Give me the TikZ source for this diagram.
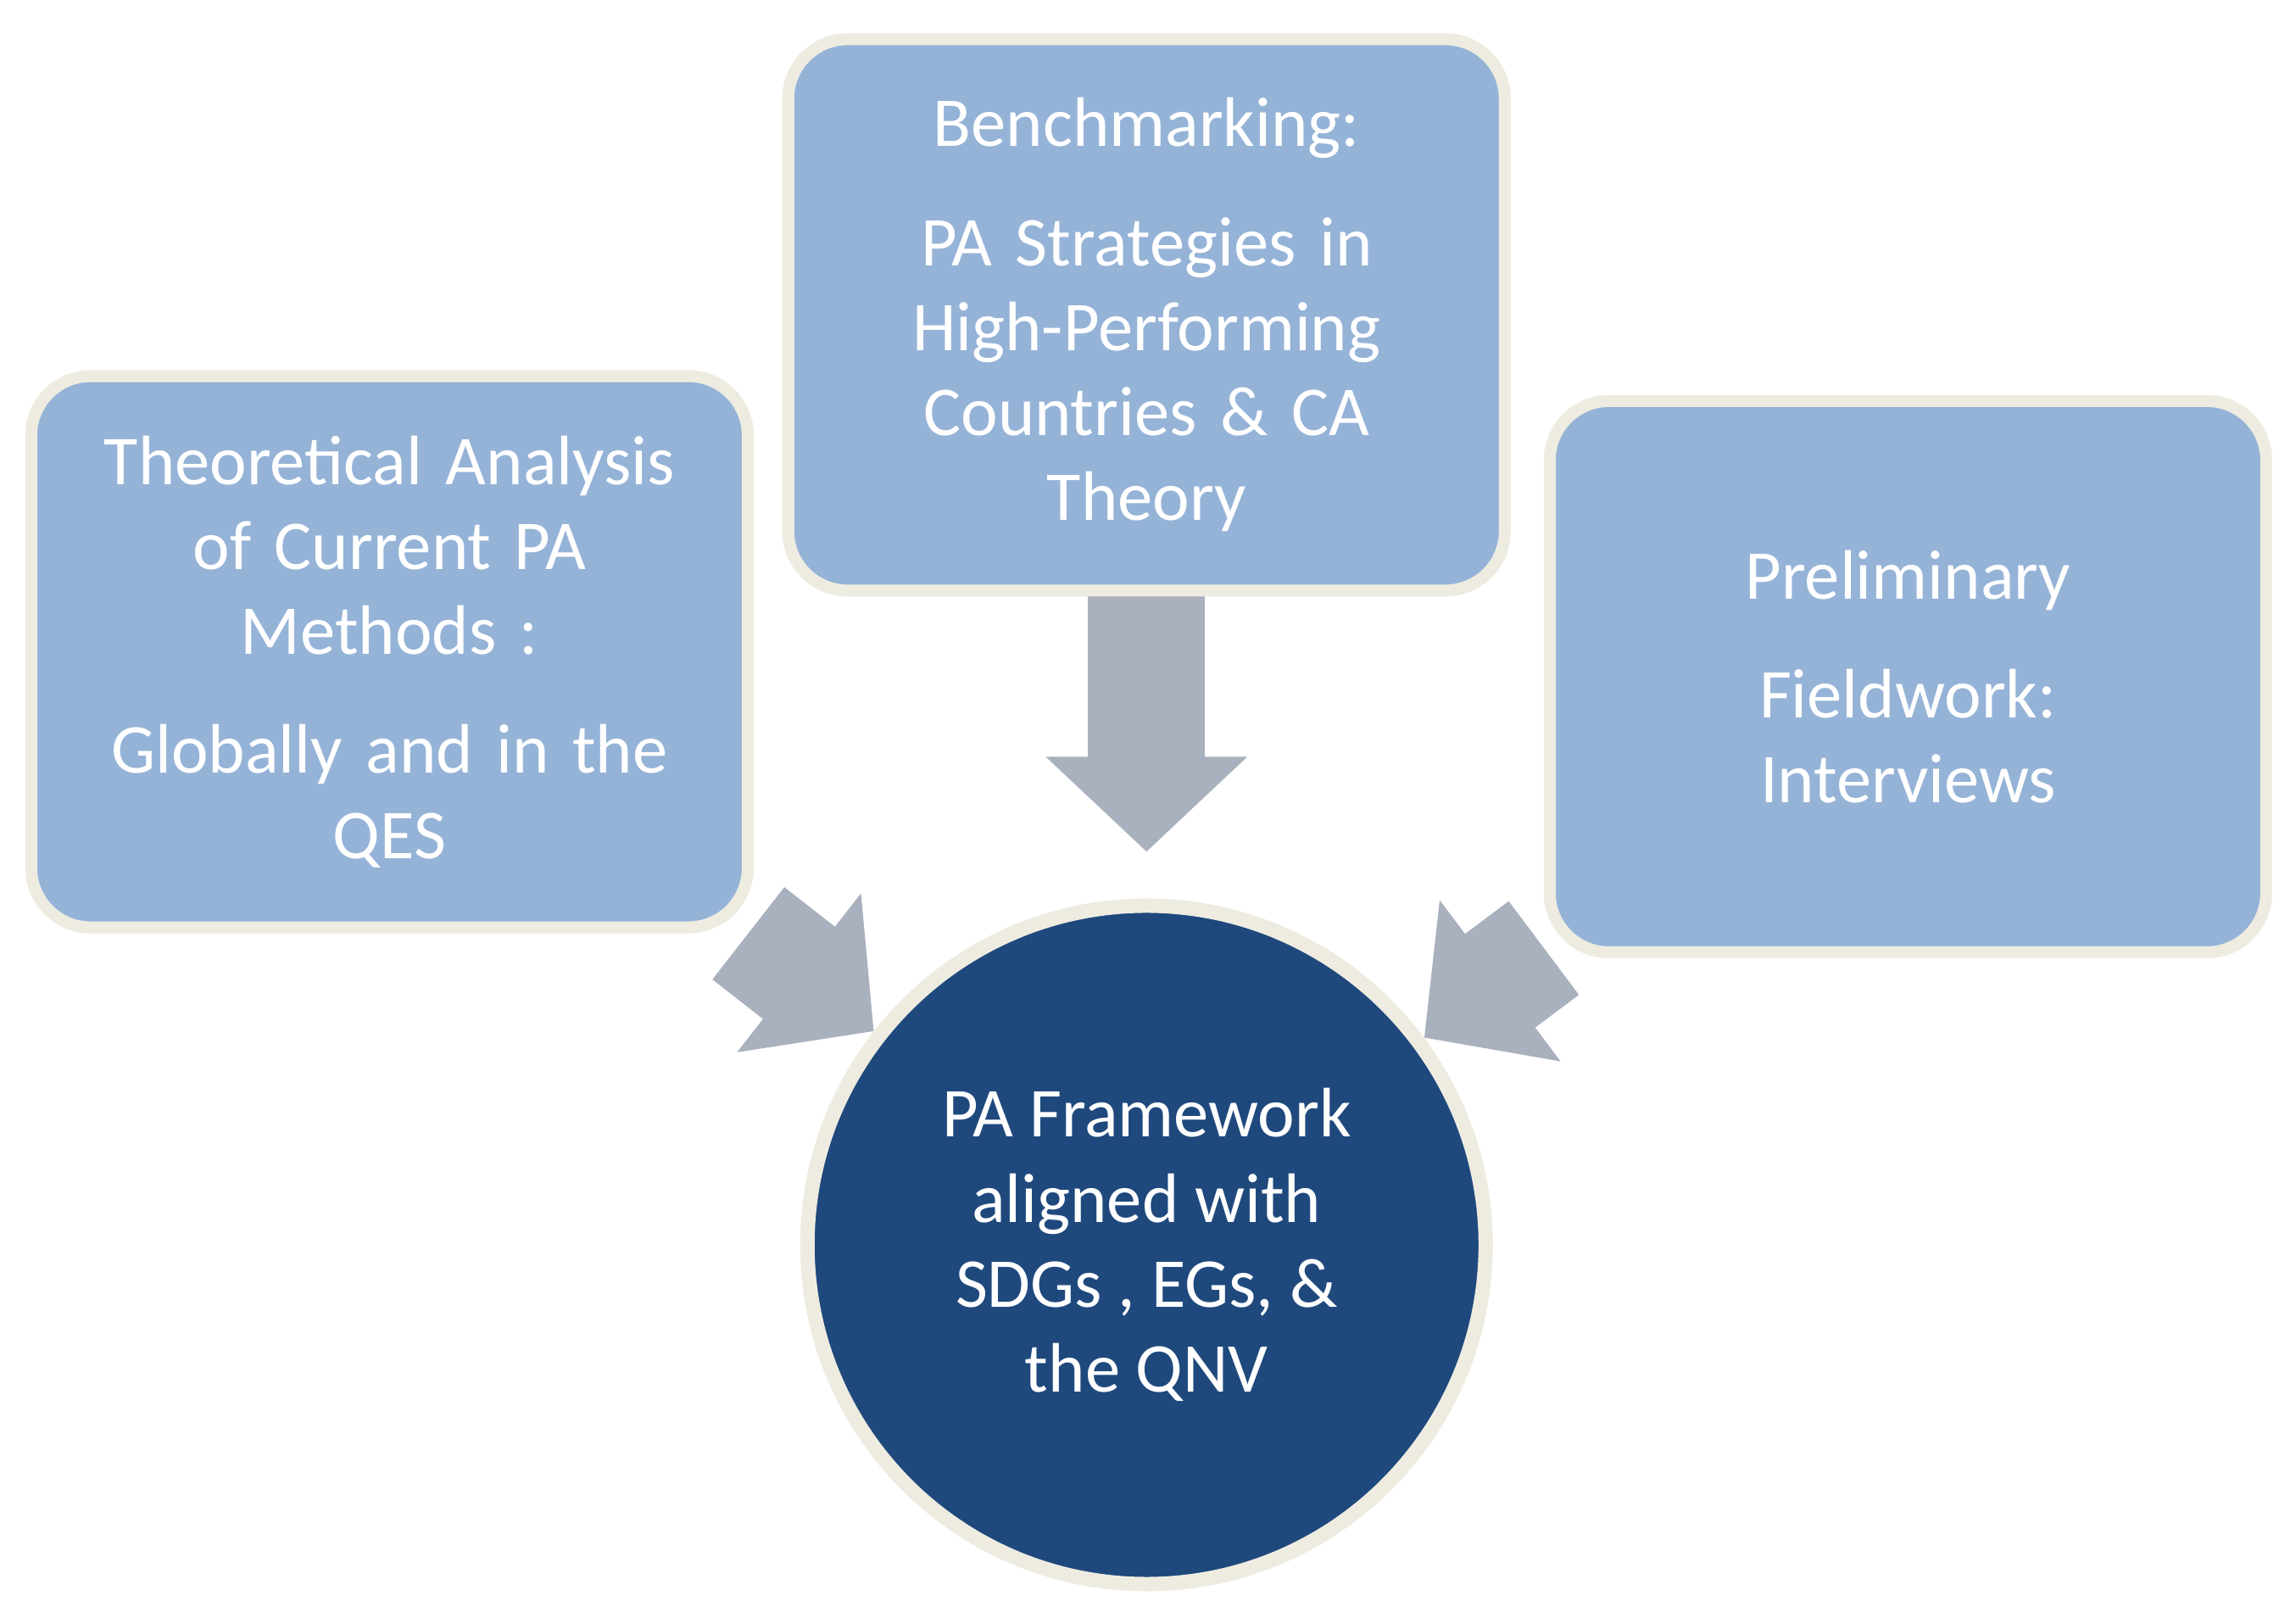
\documentclass[tikz,border=0pt]{standalone}
\usepackage{fontspec}
\setmainfont{Carlito}
\usetikzlibrary{arrows.meta}
\definecolor{boxblue}{HTML}{95B3D7}
\definecolor{rimgray}{HTML}{EEECE1}
\definecolor{arrowgray}{HTML}{A9B0BE}
\definecolor{darkblue}{HTML}{1F497D}
\begin{document}
\begin{tikzpicture}[x=0.1727mm, y=-0.1727mm,
    box/.style={draw=rimgray, fill=boxblue, line width=0.14cm, rounded corners=0.7cm, minimum width=8.45cm, minimum height=6.5cm, align=center, text=white, text width=7.8cm, font=\fontsize{23.5}{28.5}\selectfont},
    goal/.style={circle, draw=rimgray, fill=darkblue, line width=0.17cm, minimum size=8cm, align=center, text=white, font=\fontsize{23.5}{28.5}\selectfont},
    flow/.style={draw=arrowgray, line width=1.38cm, -{Triangle[width=2.31cm, length=1.12cm]}}]
    \useasboundingbox (0,0) rectangle (1568,1097);

    \node[box] (theory) at (266,445) {Theoretical Analysis\\of Current PA\\Methods :\\[0.4cm]Globally and in the\\QES};
    \node[box] (bench) at (783,215) {Benchmarking:\\[0.4cm]PA Strategies in\\High-Performing\\Countries \& CA\\Theory};
    \node[box] (field) at (1303,462) {Preliminary\\[0.4cm]Fieldwork:\\Interviews};
    \node[goal] (frame) at (783,850) {PA Framework\\aligned with\\SDGs , EGs, \&\\the QNV};

    % arrows behind the boxes
    \begin{scope}[on background layer/.try]
    \end{scope}
    \draw[flow] (theory) -- (frame);
    \draw[flow, shorten >=0.55cm] (bench) -- (frame);
    \draw[flow] (field) -- (frame);

    % redraw boxes over arrow tails
    \node[box] at (266,445) {Theoretical Analysis\\of Current PA\\Methods :\\[0.4cm]Globally and in the\\QES};
    \node[box] at (783,215) {Benchmarking:\\[0.4cm]PA Strategies in\\High-Performing\\Countries \& CA\\Theory};
    \node[box] at (1303,462) {Preliminary\\[0.4cm]Fieldwork:\\Interviews};
\end{tikzpicture}
\end{document}
